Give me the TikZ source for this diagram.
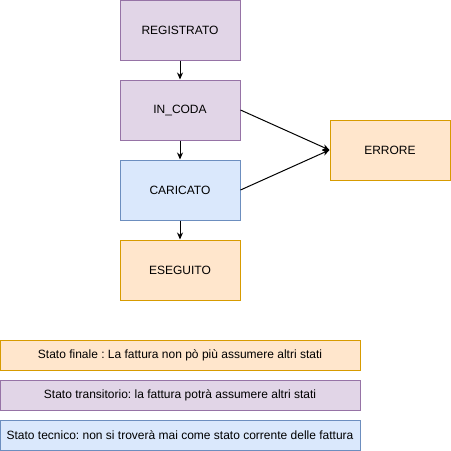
\documentclass[tikz,border=0pt]{standalone}
\usepackage{fontspec}
\setmainfont{Liberation Sans}
\usetikzlibrary{arrows.meta}
\definecolor{pfill}{HTML}{E1D5E7}\definecolor{pdraw}{HTML}{9673A6}
\definecolor{bfill}{HTML}{DAE8FC}\definecolor{bdraw}{HTML}{6C8EBF}
\definecolor{ofill}{HTML}{FFE6CC}\definecolor{odraw}{HTML}{D79B00}
\frenchspacing
\begin{document}
\begin{tikzpicture}[x=1pt,y=1pt,
  base/.style={rectangle,line width=1pt,inner sep=0pt,font=\fontsize{12}{14}\selectfont},
  statebox/.style={base,minimum width=120pt,minimum height=60pt},
  legendbox/.style={base,minimum width=360pt,minimum height=30pt},
  purple/.style={fill=pfill,draw=pdraw},
  blue/.style={fill=bfill,draw=bdraw},
  orange/.style={fill=ofill,draw=odraw},
  conn/.style={line width=1pt,-{Stealth[length=7pt,width=6pt]}}]
\useasboundingbox (0,0) rectangle (451,-451);
\node[statebox,purple] (reg) at (180,-30) {REGISTRATO};
\node[statebox,purple] (coda) at (180,-110) {IN\_CODA};
\node[statebox,blue] (car) at (180,-190) {CARICATO};
\node[statebox,orange] (ese) at (180,-270) {ESEGUITO};
\node[statebox,orange] (err) at (390,-150) {ERRORE};
\node[legendbox,orange] (l1) at (180,-355) {Stato finale : La fattura non pò più assumere altri stati};
\node[legendbox,purple] (l2) at (180,-395) {Stato transitorio: la fattura potrà assumere altri stati};
\node[legendbox,blue] (l3) at (180,-435) {Stato tecnico: non si troverà mai come stato corrente delle fattura};
\draw[conn] (reg) -- (coda);
\draw[conn] (coda) -- (car);
\draw[conn] (car) -- (ese);
\draw[conn] (coda.east) -- (err.west);
\draw[conn] (car.east) -- (err.west);
\end{tikzpicture}
\end{document}
